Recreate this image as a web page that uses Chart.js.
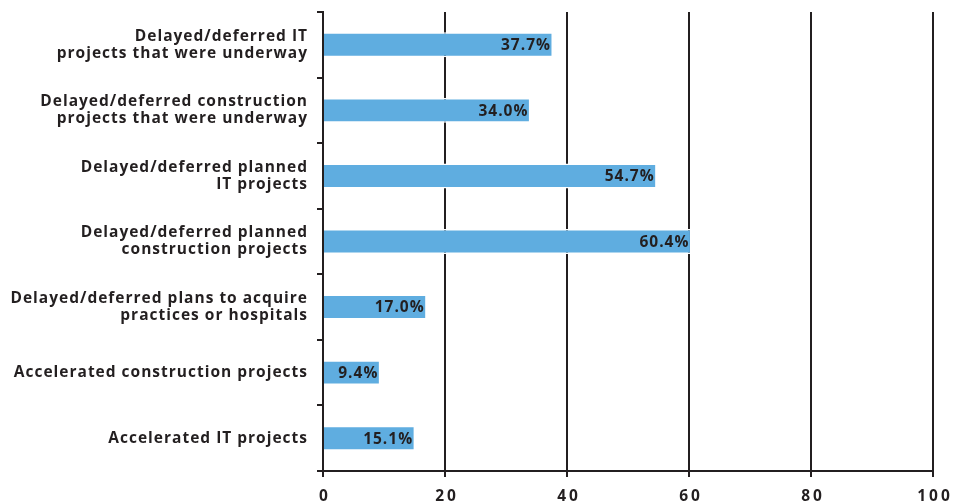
<!DOCTYPE html>
<html>
<head>
<meta charset="utf-8">
<script src="https://cdn.jsdelivr.net/npm/chart.js@4"></script>
<style>
  html, body { margin: 0; padding: 0; background: #ffffff; }
  #wrap { width: 961px; height: 504px; position: relative; }
</style>
</head>
<body>
<div id="wrap"><canvas id="c"></canvas></div>
<script>
// Survey responses: share of respondents reporting each action (%)
const categories = [
  ["Delayed/deferred IT", "projects that were underway"],
  ["Delayed/deferred construction", "projects that were underway"],
  ["Delayed/deferred planned", "IT projects"],
  ["Delayed/deferred planned", "construction projects"],
  ["Delayed/deferred plans to acquire", "practices or hospitals"],
  ["Accelerated construction projects"],
  ["Accelerated IT projects"]
];
const values = [37.7, 34.0, 54.7, 60.4, 17.0, 9.4, 15.1];
const xTicks = [0, 20, 40, 60, 80, 100];

const ink = '#231f20';
const barBlue = '#5fade0';
const fontFamily = '"Open Sans", "Noto Sans", sans-serif';

// Slightly tracked-out lettering for all chart text; wider tracking on the value axis
const tracking = {
  id: 'tracking',
  beforeDraw(chart) {
    chart.ctx.letterSpacing = '1px';
    const xs = chart.scales.x;
    if (!xs._trackedLabels) {
      const drawLabels = xs.drawLabels.bind(xs);
      xs.drawLabels = function (area) {
        const ctx = chart.ctx;
        const prev = ctx.letterSpacing;
        ctx.letterSpacing = '3px';
        ctx.save();
        ctx.translate(2, 0);
        drawLabels(area);
        ctx.restore();
        ctx.letterSpacing = prev;
      };
      xs._trackedLabels = true;
    }
  }
};

// Writes each value, right-aligned, just inside the end of its bar
const valueLabels = {
  id: 'valueLabels',
  afterDatasetsDraw(chart) {
    const { ctx } = chart;
    const meta = chart.getDatasetMeta(0);
    ctx.save();
    ctx.letterSpacing = '1px';
    ctx.font = 'bold 15.5px ' + fontFamily;
    ctx.fillStyle = ink;
    ctx.textAlign = 'right';
    ctx.textBaseline = 'middle';
    meta.data.forEach((bar, i) => {
      ctx.fillText(values[i].toFixed(1) + '%', bar.x - 2, bar.y + 1);
    });
    ctx.restore();
  }
};

new Chart(document.getElementById('c'), {
  type: 'bar',
  data: {
    labels: categories,
    datasets: [{
      data: values,
      backgroundColor: barBlue,
      borderColor: '#ffffff',
      borderWidth: 1.5,
      borderSkipped: 'left',
      barPercentage: 0.38,
      categoryPercentage: 1.0
    }]
  },
  options: {
    indexAxis: 'y',
    responsive: true,
    maintainAspectRatio: false,
    animation: false,
    layout: { padding: { top: 12, right: 28, left: 0, bottom: 0 } },
    plugins: {
      legend: { display: false },
      tooltip: { enabled: false }
    },
    scales: {
      x: {
        min: 0,
        max: 100,
        afterBuildTicks(scale) { scale.ticks = xTicks.map(v => ({ value: v })); },
        afterFit(scale) { scale.height = 33; },
        grid: {
          color: ink,
          lineWidth: 2,
          drawOnChartArea: true,
          drawTicks: true,
          tickLength: 6
        },
        border: { display: true, color: ink, width: 2 },
        ticks: {
          color: ink,
          padding: 10,
          font: { family: fontFamily, size: 15.5, weight: 'bold' }
        }
      },
      y: {
        offset: true,
        afterFit(scale) {
          scale.width = 323;
          scale.paddingTop = 0;
          scale.paddingBottom = 0;
        },
        grid: {
          offset: true,
          color: ink,
          lineWidth: 2,
          drawOnChartArea: false,
          drawTicks: true,
          tickLength: 6
        },
        border: { display: true, color: ink, width: 2 },
        ticks: {
          color: ink,
          padding: 9,
          autoSkip: false,
          font: { family: fontFamily, size: 15.5, weight: 'bold', lineHeight: 1.1 }
        }
      }
    }
  },
  plugins: [tracking, valueLabels]
});
</script>
</body>
</html>
